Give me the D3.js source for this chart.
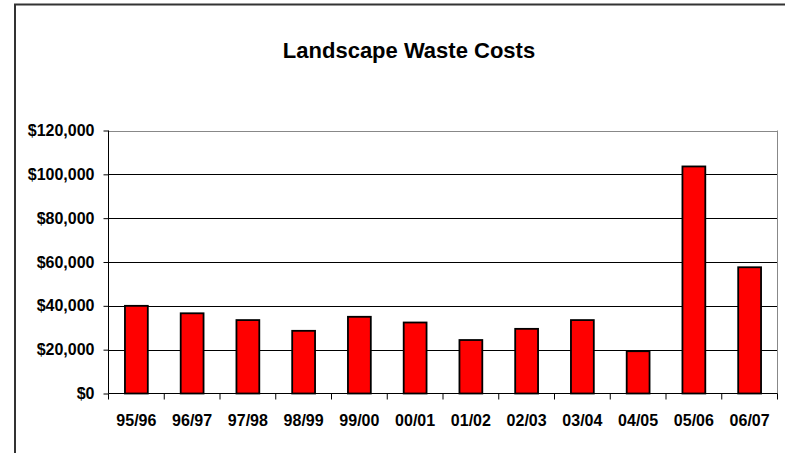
<!DOCTYPE html>
<html>
<head>
<meta charset="utf-8">
<script src="https://cdn.jsdelivr.net/npm/d3@7"></script>
<style>
  body { margin: 0; background: #fff; }
  svg text { font-family: "Liberation Sans", Arial, sans-serif; font-weight: bold; fill: #000; }
</style>
</head>
<body>
<svg id="chart" width="785" height="453"></svg>
<script>
var seasons = ['95/96', '96/97', '97/98', '98/99', '99/00', '00/01', '01/02', '02/03', '03/04', '04/05', '05/06', '06/07'];
var costs = [40000, 36600, 33500, 28600, 35000, 32400, 24400, 29500, 33500, 19300, 103600, 57600];
var y_ticks = [0, 20000, 40000, 60000, 80000, 100000, 120000];
var chart_title = 'Landscape Waste Costs';

var plot = { left: 108.5, right: 777.5, top: 130.5, bottom: 393.5 };

var svg = d3.select('#chart');

// Chart area border (runs off the right and bottom of the picture).
svg.append('rect')
  .attr('x', 15)
  .attr('y', 4.5)
  .attr('width', 900)
  .attr('height', 600)
  .style('fill', 'none')
  .style('stroke', '#333')
  .style('stroke-width', 2);

svg.append('text')
  .attr('x', 409)
  .attr('y', 58)
  .attr('text-anchor', 'middle')
  .style('font-size', '22px')
  .text(chart_title);

var x = d3.scaleBand()
  .domain(seasons)
  .range([plot.left, plot.right])
  .padding(0);

var y = d3.scaleLinear()
  .domain([0, 120000])
  .range([plot.bottom, plot.top]);

// Gridlines.
svg.append('g')
  .selectAll('line')
  .data(y_ticks.filter(d => d > 0))
  .enter().append('line')
  .attr('x1', plot.left)
  .attr('x2', plot.right)
  .attr('y1', d => Math.round(y(d)) + 0.5)
  .attr('y2', d => Math.round(y(d)) + 0.5)
  .style('stroke', d => d === 120000 ? '#888' : '#000')
  .style('stroke-width', 1);

// Right edge of plot area.
svg.append('line')
  .attr('x1', plot.right)
  .attr('x2', plot.right)
  .attr('y1', plot.top)
  .attr('y2', plot.bottom)
  .style('stroke', '#888');

// Bars.
var bar_w = x.bandwidth() * 0.41;
svg.append('g')
  .selectAll('rect')
  .data(costs)
  .enter().append('rect')
  .attr('x', (d, i) => x(seasons[i]) + (x.bandwidth() - bar_w) / 2)
  .attr('y', d => y(d))
  .attr('width', bar_w)
  .attr('height', d => plot.bottom - y(d))
  .style('fill', '#ff0000')
  .style('stroke', '#000')
  .style('stroke-width', 1.8);

// Y axis.
var yAxis = svg.append('g')
  .attr('transform', 'translate(' + plot.left + ',0)')
  .call(d3.axisLeft(y)
    .tickValues(y_ticks)
    .tickSize(5)
    .tickPadding(9)
    .tickFormat(d => '$' + d3.format(',')(d)));
yAxis.select('.domain').attr('d', 'M0,' + plot.top + 'V' + plot.bottom).style('stroke', '#000');
yAxis.selectAll('text').style('font-size', '16px');
yAxis.attr('font-family', null);

// X axis: ticks sit on the category boundaries.
var xAxis = svg.append('g')
  .attr('transform', 'translate(0,' + plot.bottom + ')');
xAxis.append('line')
  .attr('x1', plot.left)
  .attr('x2', plot.right)
  .style('stroke', '#000');
xAxis.selectAll('.xtick')
  .data(seasons.concat(['end']))
  .enter().append('line')
  .attr('class', 'xtick')
  .attr('x1', (d, i) => i < seasons.length ? x(d) : plot.right)
  .attr('x2', (d, i) => i < seasons.length ? x(d) : plot.right)
  .attr('y1', 0)
  .attr('y2', 6)
  .style('stroke', '#000');
xAxis.selectAll('.xlabel')
  .data(seasons)
  .enter().append('text')
  .attr('class', 'xlabel')
  .attr('x', d => x(d) + x.bandwidth() / 2)
  .attr('y', 32)
  .attr('text-anchor', 'middle')
  .style('font-size', '16px')
  .text(d => d);
</script>
</body>
</html>
